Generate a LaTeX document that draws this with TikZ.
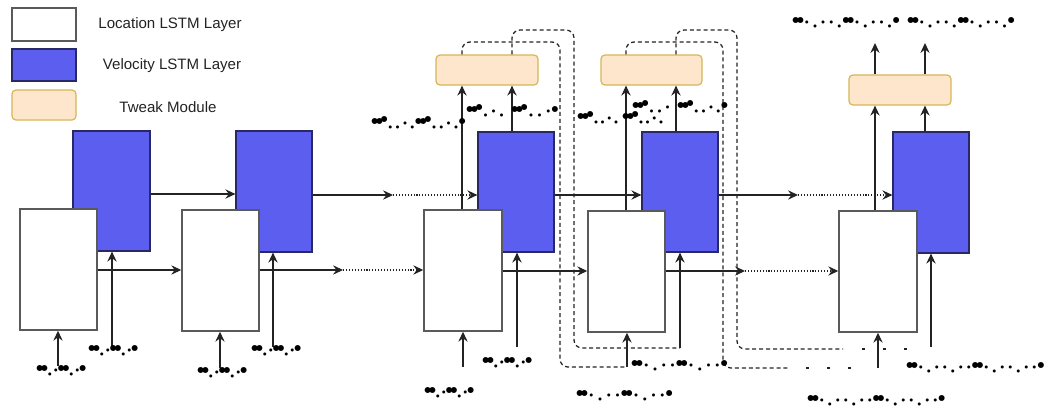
\documentclass[tikz,border=0pt]{standalone}
\usepackage{fontspec}
\setmainfont{Liberation Sans}
\newfontfamily\dvfont{DejaVu Sans}
\usetikzlibrary{arrows.meta,fit}
\definecolor{vblue}{RGB}{92,94,240}
\definecolor{vborder}{RGB}{40,40,100}
\definecolor{tfill}{RGB}{253,230,204}
\definecolor{tborder}{RGB}{214,182,86}
\definecolor{lborder}{RGB}{90,90,90}
\definecolor{ink}{RGB}{35,35,35}
\newlength\Bw \setlength\Bw{3.6pt}
\newlength\Dw \setlength\Dw{6pt}
\newcommand\xB{\makebox[\Bw]{\raisebox{0.2pt}{\fontsize{5.8}{6}\selectfont\dvfont ●}}}
\newcommand\xR{\makebox[\Bw]{\raisebox{1.7pt}{\fontsize{5.8}{6}\selectfont\dvfont ●}}}
\newcommand\xL{\makebox[\Dw]{\raisebox{-3.1pt}{\fontsize{3}{3}\selectfont\dvfont ●}}}
\newcommand\xM{\makebox[\Dw]{\raisebox{-0.1pt}{\fontsize{3}{3}\selectfont\dvfont ●}}}
\newcommand\pA{\setlength\Dw{4.5pt}\xB\xB\xL\xM\xB\xB\xL\xM\xB}
\newcommand\pB{\setlength\Dw{6.6pt}\xB\xB\xM\xL\xM\xM\xB\xB\xM\xL\xM\xM\xB}
\newcommand\pC{\setlength\Dw{6pt}\xB\xB\xM\xL\xM\xM\xL\xM\xM\xB\xB\xM\xL\xM\xM\xL\xM\xM\xB}
\newcommand\pD{\setlength\Dw{6.1pt}\xB\xB\xM\xL\xM\xM\xL\xB\xB\xM\xL\xM\xM\xL\xB}
\begin{document}
\begin{tikzpicture}[x=0.75pt,y=-0.75pt,
  loc/.style={draw=lborder,line width=1.1pt,fill=white,inner sep=0},
  vel/.style={draw=vborder,line width=0.9pt,fill=vblue,inner sep=0},
  tweak/.style={draw=tborder,line width=0.9pt,fill=tfill,rounded corners=3pt,inner sep=0},
  arr/.style={draw=ink,line width=0.95pt,-{Stealth[length=7.5pt,width=7pt,inset=2.6pt]}},
  dotarr/.style={arr,dash pattern=on 0.8pt off 1.4pt},
  fb/.style={draw=ink,line width=0.95pt,dash pattern=on 3pt off 2.2pt,rounded corners=6pt},
  fbdots/.style={draw=ink,line width=2.2pt,dash pattern=on 2.2pt off 13.55pt},
  lab/.style={inner sep=0,anchor=base west,yshift=-2.3pt},
  legtxt/.style={font=\fontsize{11.3}{13}\selectfont,text=ink}]
\useasboundingbox (0,0) rectangle (1047,408);
% legend
\node[loc,fit={(12,8)(76,41)}] (legL) {};
\node[vel,fit={(12,49)(76,81)}] (legV) {};
\node[tweak,fit={(12,90)(76,120)}] (legT) {};
\node[legtxt] (legLt) at (170,25) {Location LSTM Layer};
\node[legtxt] (legVt) at (172,66) {Velocity LSTM Layer};
\node[legtxt] (legTt) at (168,107) {Tweak Module};
% cells
\node[vel,fit={(73,131)(150,251)}] (c1b) {};
\node[loc,fit={(20,209)(97,330)}] (c1w) {};
\node[vel,fit={(236,131)(312,252)}] (c2b) {};
\node[loc,fit={(182,210)(259,331)}] (c2w) {};
\node[vel,fit={(478,132)(554,252)}] (c3b) {};
\node[loc,fit={(424,210)(502,331)}] (c3w) {};
\node[vel,fit={(642,132)(718,252)}] (c4b) {};
\node[loc,fit={(588,211)(665,332)}] (c4w) {};
\node[vel,fit={(893,132)(969,253)}] (c5b) {};
\node[loc,fit={(839,211)(917,332)}] (c5w) {};
\node[tweak,fit={(436,55)(538,85)}] (t3) {};
\node[tweak,fit={(601,55)(702,85)}] (t4) {};
\node[tweak,fit={(849,75)(951,105)}] (t5) {};
% horizontal connections
\draw[arr] (c1b.east |- 0,194) -- (c2b.west |- 0,194);
\draw[arr] (c1w.east |- 0,270) -- (c2w.west |- 0,270);
\coordinate (m2b) at (393,195);
\coordinate (m2w) at (343,270);
\draw[arr] (c2b.east |- m2b) -- (m2b);
\draw[dotarr] (m2b) -- (c3b.west |- m2b);
\draw[arr] (c2w.east |- m2w) -- (m2w);
\draw[dotarr] (m2w) -- (c3w.west |- m2w);
\draw[arr] (c3b.east |- 0,195) -- (c4b.west |- 0,195);
\draw[arr] (c3w.east |- 0,271) -- (c4w.west |- 0,271);
\coordinate (m4b) at (798,195);
\coordinate (m4w) at (745,271);
\draw[arr] (c4b.east |- m4b) -- (m4b);
\draw[dotarr] (m4b) -- (c5b.west |- m4b);
\draw[arr] (c4w.east |- m4w) -- (m4w);
\draw[dotarr] (m4w) -- (c5w.west |- m4w);
% inputs
\coordinate (in1w) at (58,366);  \draw[arr] (in1w) -- (c1w.south -| in1w);
\coordinate (in1b) at (112,347); \draw[arr] (in1b) -- (c1b.south -| in1b);
\coordinate (in2w) at (220,368); \draw[arr] (in2w) -- (c2w.south -| in2w);
\coordinate (in2b) at (273,347); \draw[arr] (in2b) -- (c2b.south -| in2b);
\coordinate (in3w) at (463,367); \draw[arr] (in3w) -- (c3w.south -| in3w);
\coordinate (in3b) at (517,347); \draw[arr] (in3b) -- (c3b.south -| in3b);
\coordinate (in4w) at (627,367); \draw[arr] (in4w) -- (c4w.south -| in4w);
\coordinate (in4b) at (680,348); \draw[arr] (in4b) -- (c4b.south -| in4b);
\coordinate (in5w) at (878,368); \draw[arr] (in5w) -- (c5w.south -| in5w);
\coordinate (in5b) at (931,347); \draw[arr] (in5b) -- (c5b.south -| in5b);
% up to tweak modules
\draw[arr] (c3w.north -| 462,0) -- (t3.south -| 462,0);
\draw[arr] (c3b.north -| 512,0) -- (t3.south -| 512,0);
\draw[arr] (c4w.north -| 626,0) -- (t4.south -| 626,0);
\draw[arr] (c4b.north -| 676,0) -- (t4.south -| 676,0);
\draw[arr] (c5w.north -| 875,0) -- (t5.south -| 875,0);
\draw[arr] (c5b.north -| 925,0) -- (t5.south -| 925,0);
\draw[arr] (t5.north -| 875,0) -- (875,43);
\draw[arr] (t5.north -| 925,0) -- (925,43);
% feedback
\draw[fb] (t3.north -| 462,0) -- (462,42) -- (560,42) -- (560,367) -- (in4w);
\draw[fb] (t3.north -| 512,0) -- (512,30) -- (574,30) -- (574,348) -- (in4b);
\coordinate (f4a) at (790,368);
\coordinate (f4b) at (843,349);
\draw[fb] (t4.north -| 626,0) -- (626,42) -- (723,42) -- (723,368) -- (f4a);
\draw[fb] (t4.north -| 676,0) -- (676,30) -- (737,30) -- (737,349) -- (f4b);
\draw[fbdots] (806,368) -- (852,368);
\draw[fbdots] (862,349) -- (909,349);
% labels
\node[lab] (l1a) at (37,368) {\pA};
\node[lab] (l1b) at (89,348) {\pA};
\node[lab] (l2a) at (198,370) {\pA};
\node[lab] (l2b) at (252,348) {\pA};
\node[lab] (l3a) at (425,390) {\pA};
\node[lab] (l3b) at (483,360) {\pA};
\node[lab] (l4a) at (632,363) {\pB};
\node[lab] (l4b) at (577,393) {\pB};
\node[lab] (l5a) at (907,365) {\pC};
\node[lab] (l5b) at (808,398) {\pC};
\node[lab] (o5a) at (793,20) {\pD};
\node[lab] (o5b) at (908,20) {\pD};
\node[lab] (k1) at (372,121) {\setlength\Dw{5.5pt}\xB\xB\xR\xL\xL\xM\xL\xB\xB\xR\xL\xL\xM\xL\xB};
\node[lab] (k2) at (467,109) {\xB\xB\xR\xL\xM\xL};
\node[lab] (k3) at (512,109) {\setlength\Dw{6.5pt}\xB\xB\xR\xL\xL\xM\xB};
\node[lab] (k4) at (578,116) {\setlength\Dw{5pt}\xB\xB\xR\xL\xL\xM\xL};
\node[lab] (k5) at (623,116) {\setlength\Dw{5pt}\xB\xB\xR\xL\xL\xM\xL};
\node[lab] (k6) at (633,105) {\xB\xB\xR\xL\xL\xM};
\node[lab] (k7) at (678,105) {\setlength\Dw{5.5pt}\xB\xB\xR\xL\xL\xM\xL\xB};
\end{tikzpicture}
\end{document}
